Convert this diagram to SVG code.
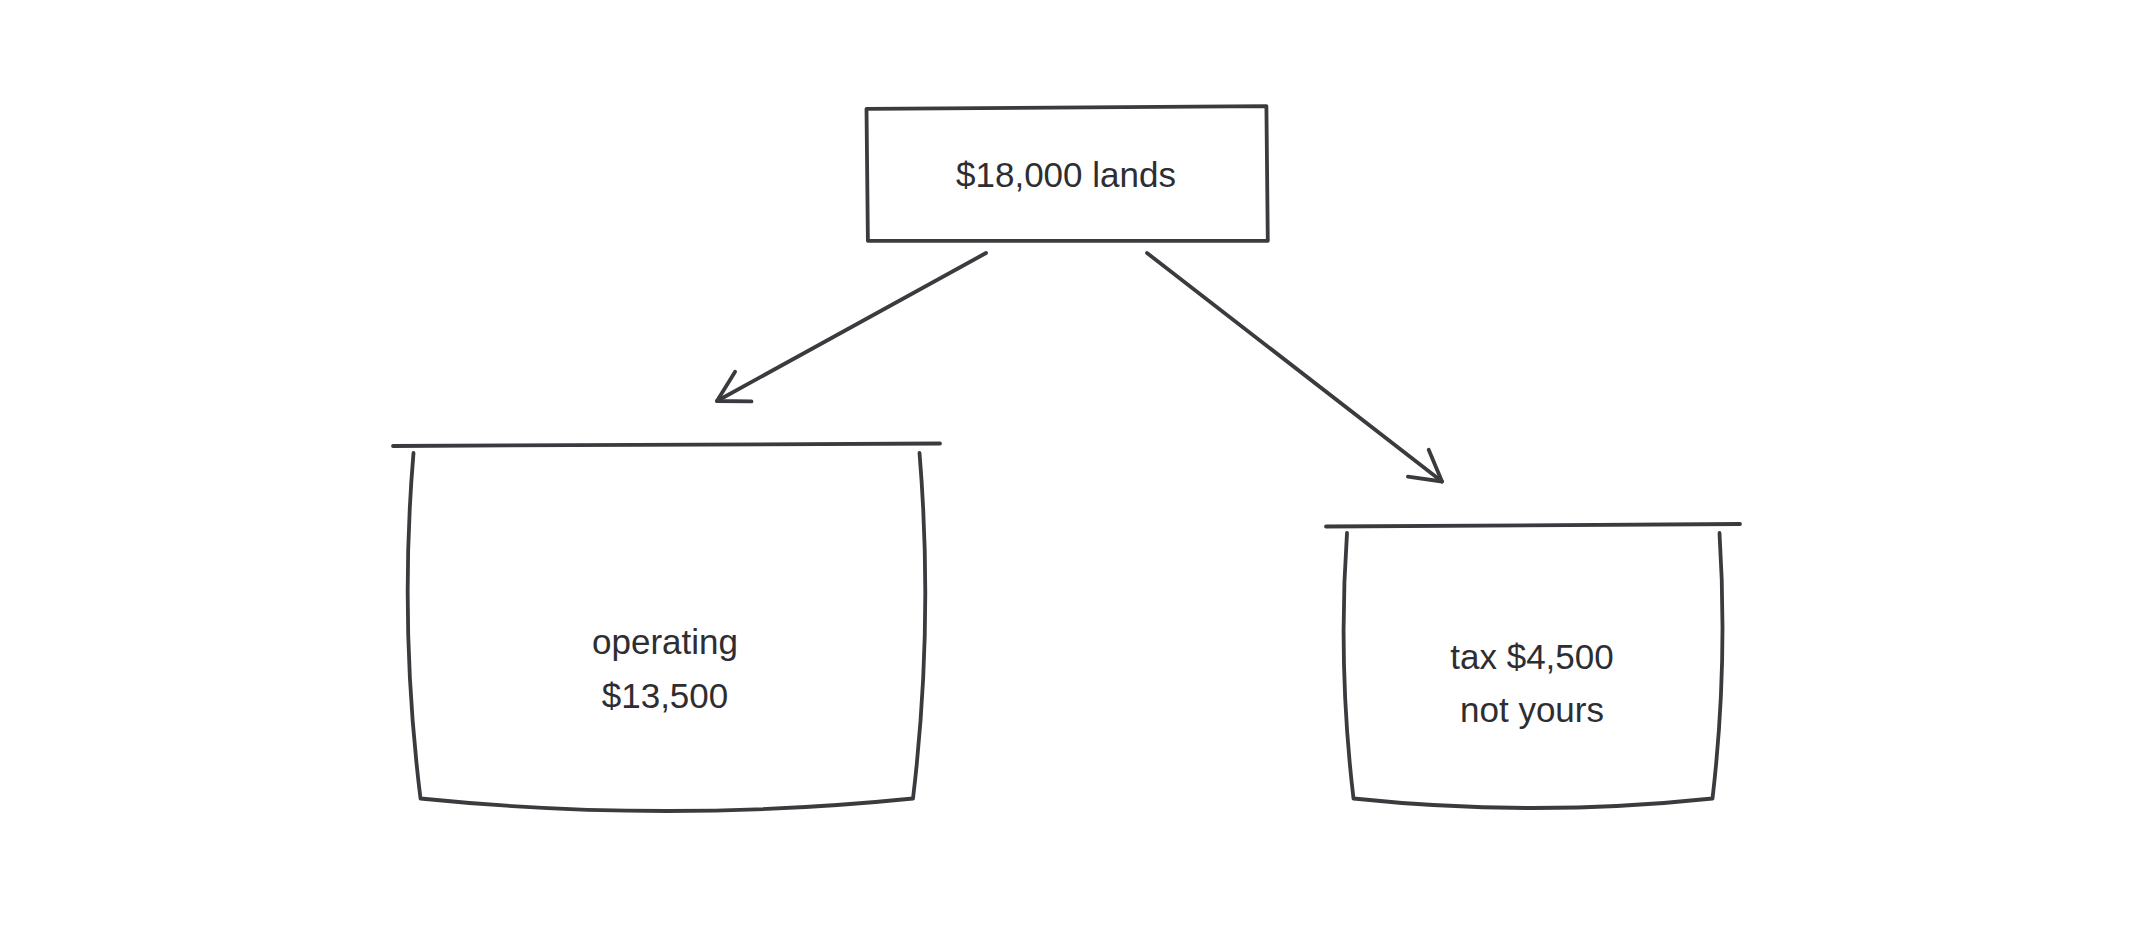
<svg xmlns="http://www.w3.org/2000/svg" width="2133" height="933" viewBox="0 0 2133 933">
<style>
.s{fill:none;stroke:#3b3b3f;stroke-width:3.8;stroke-linecap:round;stroke-linejoin:round}
.t{font-family:"Liberation Sans",Arial,sans-serif;font-size:35px;fill:#2e2e32;text-anchor:middle}
</style>
<defs>
<marker id="ah" markerUnits="userSpaceOnUse" markerWidth="60" markerHeight="60" refX="0" refY="0" viewBox="-40 -30 50 60" orient="auto" overflow="visible">
<path d="M -30 -17 L 0 0 L -30 17" fill="none" stroke="#3b3b3f" stroke-width="3.8" stroke-linecap="round" stroke-linejoin="round"/>
</marker>
</defs>
<rect width="2133" height="933" fill="#ffffff"/>
<g id="lands">
<path class="s" d="M866.5 108.8 L1266.4 106.1 L1267.8 240.8 L867.9 240.8 Z"/>
<text class="t" x="1066" y="187">$18,000 lands</text>
</g>
<g id="operating">
<path class="s" d="M393 446 L940 443.5"/>
<path class="s" d="M413.5 453 Q399 625 420.5 798.5 Q666.5 823.5 913 798.5 Q933.75 625 919.5 453"/>
<text class="t" x="665" y="654">operating</text>
<text class="t" x="665" y="708">$13,500</text>
</g>
<g id="tax">
<path class="s" d="M1326 526.5 L1740 524"/>
<path class="s" d="M1347 533 Q1337.75 666 1353.5 798.5 Q1533 817.5 1712.5 798.5 Q1728 666 1719.5 533"/>
<text class="t" x="1532" y="669">tax $4,500</text>
<text class="t" x="1532" y="722">not yours</text>
</g>
<g id="connectors">
<path class="s" d="M986 253 L717 401" marker-end="url(#ah)"/>
<path class="s" d="M1147 253 L1442 481.5" marker-end="url(#ah)"/>
</g>
</svg>
